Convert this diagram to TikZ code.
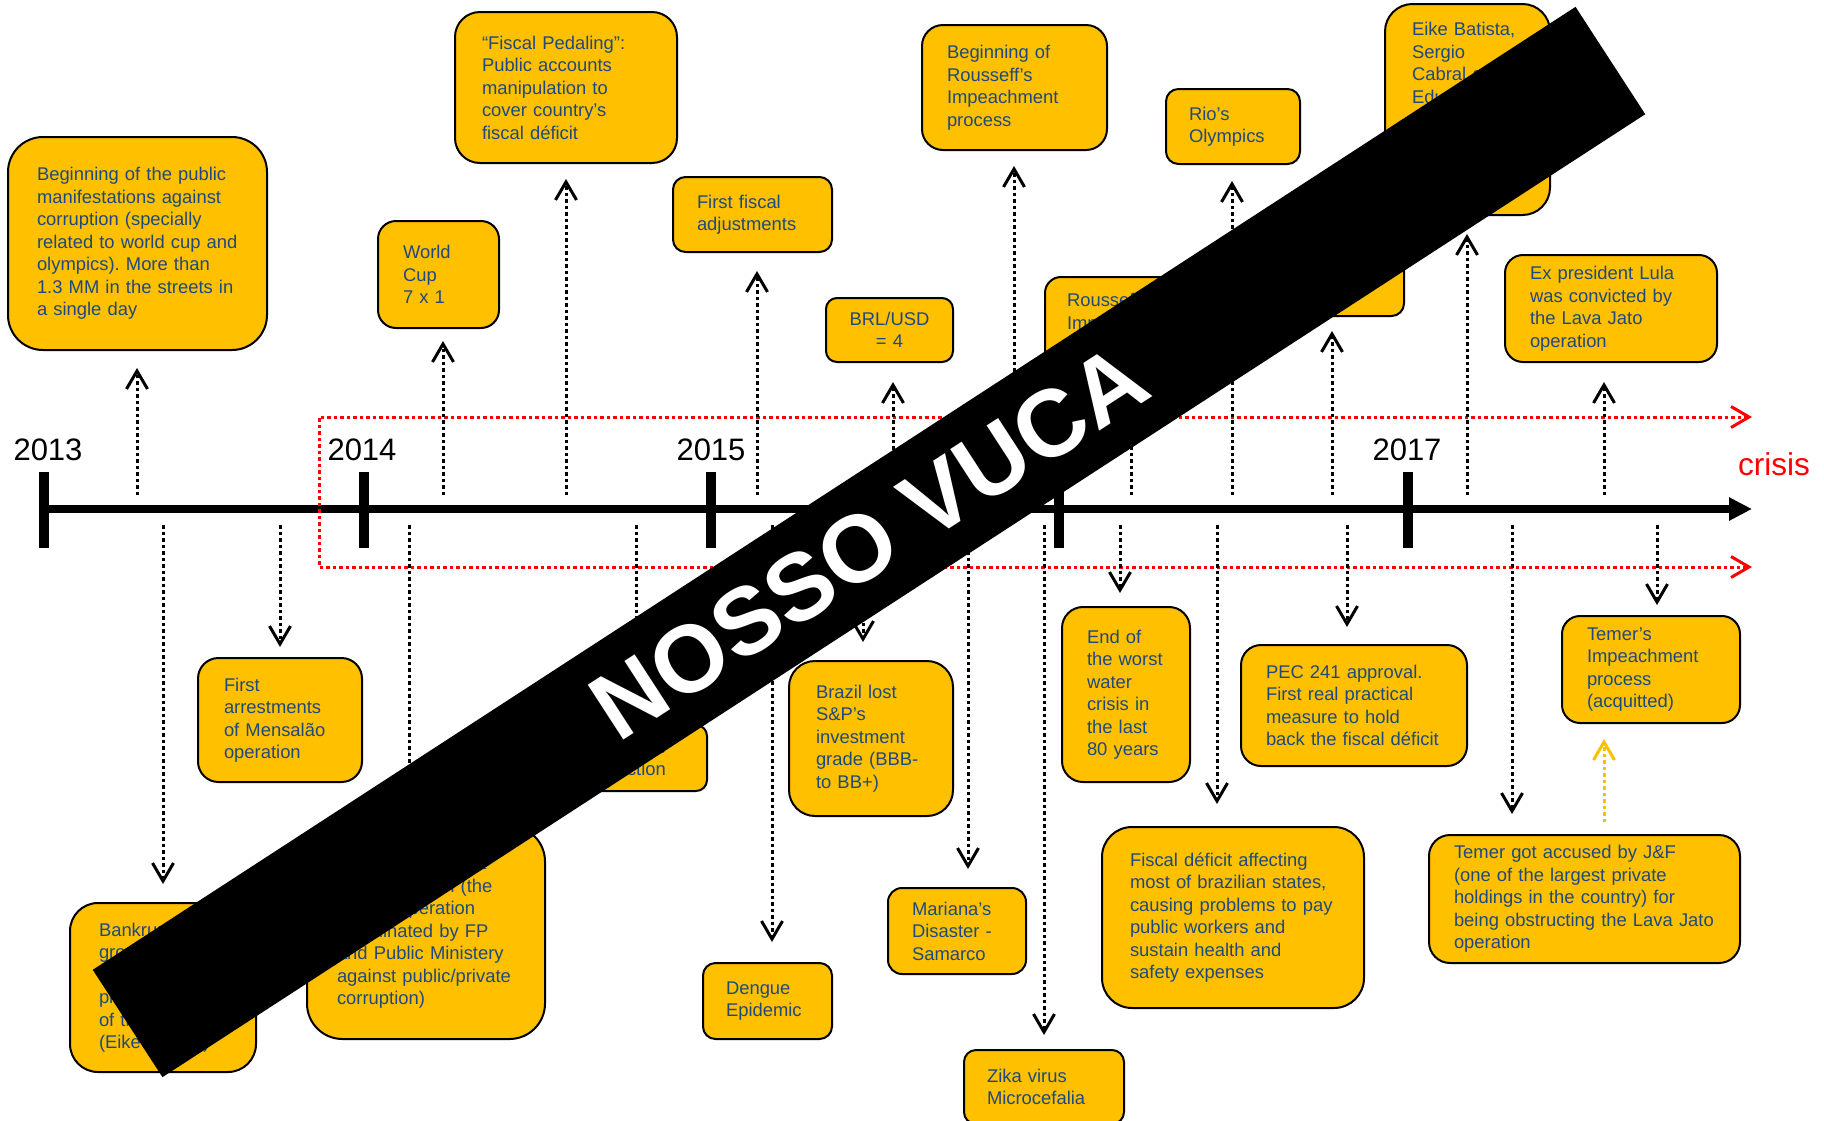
\documentclass[tikz,border=0pt]{standalone}
\usepackage{fontspec}
\setmainfont{Liberation Sans}
\usepackage{tikz}
\usetikzlibrary{arrows.meta}
\definecolor{evgold}{HTML}{FFC000}
\definecolor{evtext}{HTML}{1F497D}
\definecolor{crisisred}{HTML}{FF0000}
\frenchspacing
\tikzset{
  evt/.style={draw=black, line width=2pt, fill=evgold, text=evtext, align=left,
    inner ysep=0pt, font=\fontsize{18.4pt}{22.5pt}\selectfont},
  dims/.style n args={5}{minimum width=#1pt, minimum height=#2pt,
    inner xsep=#3pt, text width=#4pt, rounded corners=#5pt},
  dotarr/.style={draw=black, line width=3pt, dash pattern=on 3.5pt off 3pt, ->},
  goldarr/.style={dotarr, draw=evgold},
  crisisline/.style={draw=crisisred, line width=3pt, dash pattern=on 3.5pt off 3pt, <->},
  axisline/.style={line width=8pt, -{Triangle[length=23pt,width=22pt]}},
  yeartick/.style={line width=10pt},
  yearlab/.style={font=\fontsize{31pt}{31pt}\selectfont, anchor=base, inner sep=0pt},
  banner/.style={fill=black, text=white, inner sep=0pt,
    font=\fontsize{95pt}{95pt}\selectfont\bfseries},
}

\begin{document}
\begin{tikzpicture}[x=1pt, y=-1pt, >={Straight Barb[length=18pt,width=21pt]}]
  \useasboundingbox (0,0) rectangle (1824,1120);

  % crisis band
  \coordinate (cr-top) at (1752,417);
  \coordinate (cr-tl) at (319,417);
  \coordinate (cr-bl) at (319,567);
  \coordinate (cr-bot) at (1752,567);

  % time axis
  \coordinate (ax-start) at (44,509);
  \coordinate (ax-end) at (1752,509);
  \draw[axisline] (ax-start) -- (ax-end);
  \foreach \X in {44,364,711,1059,1408}
    \draw[yeartick] (\X,472) -- (\X,548);
  \foreach \yr/\X in {2013/48,2014/362,2015/711,2017/1407}
    \node[yearlab] (y\yr) at (\X,460) {\yr};
  \draw[crisisline] (cr-top) -- (cr-tl) -- (cr-bl) -- (cr-bot);
  \node[text=crisisred, anchor=base, inner sep=0pt, font=\fontsize{31.6pt}{31.6pt}\selectfont] (crisis) at (1774,475) {crisis};

  % events above the axis
  \node[evt, dims={259}{213}{29}{201}{35}] (pub) at (137.5,243.5) {Beginning of the public\\manifestations against\\corruption (specially\\related to world cup and\\olympics). More than\\1.3 MM in the streets in\\a single day};
  \node[evt, dims={121}{107}{25}{71}{18}] (cup) at (438.5,274.5) {World\\Cup\\7 x 1};
  \node[evt, dims={222}{151}{27}{168}{25}] (pedal) at (566,87.5) {“Fiscal Pedaling”:\\Public accounts\\manipulation to\\cover country’s\\fiscal déficit};
  \node[evt, dims={159}{75}{24}{111}{12.5}] (adjust) at (752.5,214.5) {First fiscal\\adjustments};
  \node[evt, dims={127}{64}{10}{107}{11}, align=center] (brl) at (889.5,330) {BRL/USD\\= 4};
  \node[evt, dims={185}{125}{25}{135}{21}] (begimp) at (1014.5,87.5) {Beginning of\\Rousseff’s\\Impeachment\\process};
  \node[evt, dims={134}{75}{23}{88}{12.5}] (rio) at (1233,126.5) {Rio’s\\Olympics};
  \node[evt, dims={185}{95}{22}{141}{16}] (rimp) at (1137.5,324.5) {Rousseff’s\\Impeachment\\approved};
  \node[evt, dims={144}{76}{22}{100}{12.5}] (r2) at (1332,278) {};
  \node[evt, dims={165}{211}{27}{111}{27.5}] (eike) at (1467.5,109.5) {Eike Batista,\\Sergio\\Cabral and\\Eduardo\\Cunha were\\arrested by\\Lava Jato\\operation};
  \node[evt, dims={212}{107}{25}{162}{18}] (lula) at (1611,308.5) {Ex president Lula\\was convicted by\\the Lava Jato\\operation};

  % events below the axis
  \node[evt, dims={164}{124}{26}{112}{20.5}] (arrest) at (280,720) {First\\arrestments\\of Mensalão\\operation};
  \node[evt, dims={186}{169}{29}{128}{28}] (bankr) at (163,987.5) {Bankruptcy of\\group X,\\the largest\\private group\\of the country\\(Eike Batista)};
  \node[evt, dims={238}{213}{30}{178}{35.5}] (lava) at (426,932.5) {Beginning of Lava\\Jato operation (the\\largest operation\\coordinated by FP\\and Public Ministery\\against public/private\\corruption)};
  \node[evt, dims={152}{66}{25}{102}{11}] (reelect) at (631,758) {Rousseff’s\\re-election};
  \node[evt, dims={164}{155}{27}{110}{26}] (sp) at (871,738.5) {Brazil lost\\S\&P’s\\investment\\grade (BBB-\\to BB+)};
  \node[evt, dims={129}{76}{23}{83}{12.5}] (dengue) at (767.5,1001) {Dengue\\Epidemic};
  \node[evt, dims={138}{86}{24}{90}{14}] (mariana) at (957,931) {Mariana’s\\Disaster -\\Samarco};
  \node[evt, dims={160}{74}{23}{114}{12}] (zika) at (1044,1087) {Zika virus\\Microcefalia};
  \node[evt, dims={128}{175}{25}{78}{21}] (water) at (1126,694.5) {End of\\the worst\\water\\crisis in\\the last\\80 years};
  \node[evt, dims={262}{181}{28}{206}{30}] (fiscdef) at (1233,917.5) {Fiscal déficit affecting\\most of brazilian states,\\causing problems to pay\\public workers and\\sustain health and\\safety expenses};
  \node[evt, dims={226}{121}{25}{176}{20}] (pec) at (1354,705.5) {PEC 241 approval.\\First real practical\\measure to hold\\back the fiscal déficit};
  \node[evt, dims={178}{107}{25}{128}{18}] (temimp) at (1651,669.5) {Temer’s\\Impeachment\\process\\(acquitted)};
  \node[evt, dims={311}{128}{25}{261}{21}] (temacc) at (1584.5,899) {Temer got accused by J\&F\\(one of the largest private\\holdings in the country) for\\being obstructing the Lava Jato\\operation};

  % arrows from the axis
  \foreach \B/\X/\G in {pub/137/17, cup/443/12, pedal/566/15, adjust/757/18, brl/893/19,
      begimp/1014/15, rio/1232/16, rimp/1131/16, r2/1332/14, eike/1467/18, lula/1604/19}{
    \coordinate (up-\B) at (\X,495);
    \draw[dotarr, shorten >=\G pt] (up-\B) -- (up-\B |- \B.south);
  }
  \foreach \B/\X/\G in {bankr/163/18, arrest/280/10, lava/409/16, reelect/636/15, dengue/772/20,
      sp/863/18, mariana/968/18, zika/1044/14, water/1120/13, fiscdef/1217/22, pec/1347/17,
      temacc/1512/20, temimp/1657/10}{
    \coordinate (dn-\B) at (\X,525);
    \draw[dotarr, shorten >=\G pt] (dn-\B) -- (dn-\B |- \B.north);
  }
  \coordinate (gd) at (1604,822);
  \draw[goldarr, shorten >=15pt] (gd) -- (gd |- temimp.south);

  % banner
  \node[banner, rotate=33, minimum width=1768pt, minimum height=128pt] (vuca) at (869,542) {NOSSO VUCA};
\end{tikzpicture}
\end{document}
